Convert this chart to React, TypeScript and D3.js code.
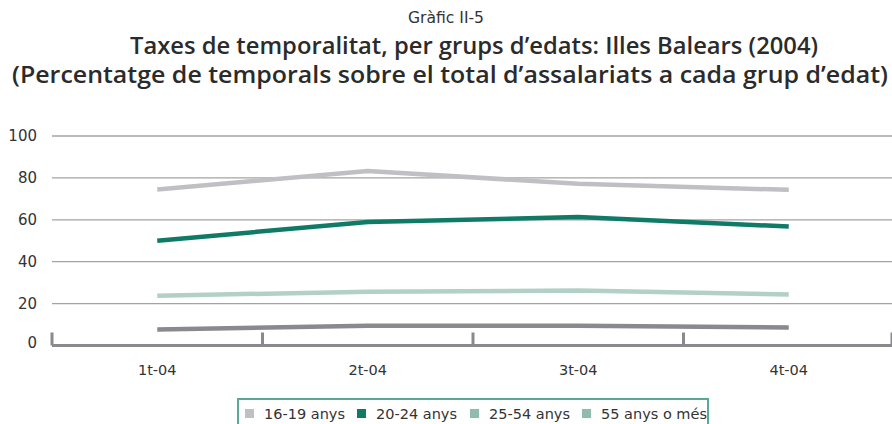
import * as d3 from 'd3';

const categories = ['1t-04', '2t-04', '3t-04', '4t-04'];
const seriesNames = ['16-19 anys', '20-24 anys', '25-54 anys', '55 anys o més'];
const s1619 = [74.5, 83.3, 77.2, 74.3];
const s2024 = [50.0, 59.0, 61.3, 56.8];
const s2554 = [23.8, 25.6, 26.2, 24.3];
const s55 = [7.6, 9.4, 9.4, 8.6];
const yTicks = [0, 20, 40, 60, 80, 100];

const lineColors = ['#c0c0c4', '#0f7a66', '#b2d0c7', '#8a8a8e'];
const legendColors = ['#c0c0c4', '#0f7a66', '#8fbcae', '#8fbcae'];

const W = 892;
const H = 424;
const font = '"DejaVu Sans", "Open Sans", sans-serif';
const condensed = '"DejaVu Sans Condensed", "DejaVu Sans", sans-serif';
const titleFont = '"Open Sans", "DejaVu Sans Condensed", sans-serif';

export default function App() {
  const x = d3.scaleBand<string>().domain(categories).range([52, 894]);
  const y = d3.scaleLinear().domain([0, 100]).range([345.5, 136]);
  const series = [s1619, s2024, s2554, s55];
  const line = d3
    .line<number>()
    .x((_, i) => (x(categories[i]) as number) + x.bandwidth() / 2)
    .y((d) => y(d));

  const bounds = [...categories.map((c) => x(c) as number), 892];
  const legendX = [245, 357, 470, 582];

  return (
    <svg width={W} height={H} style={{ position: 'absolute', left: 0, top: 0, background: '#fff' }} fontFamily={font}>
      <text x={446} y={23} textAnchor="middle" fontSize={15} fill="#333" fontFamily={condensed} textLength={76} lengthAdjust="spacingAndGlyphs">Gràfic II-5</text>
      <text x={474} y={54} textAnchor="middle" fontSize={22.5} fontWeight={600} fill="#2b2b2b" fontFamily={titleFont} textLength={688} lengthAdjust="spacingAndGlyphs">
        Taxes de temporalitat, per grups d’edats: Illes Balears (2004)
      </text>
      <text x={450} y={83} textAnchor="middle" fontSize={22.5} fontWeight={600} fill="#2b2b2b" fontFamily={titleFont} textLength={876} lengthAdjust="spacingAndGlyphs">
        (Percentatge de temporals sobre el total d’assalariats a cada grup d’edat)
      </text>

      {yTicks.filter((t) => t > 0).map((t) => (
        <line key={t} x1={52} x2={892} y1={y(t)} y2={y(t)} stroke="#a3a3a6" strokeWidth={1.3} />
      ))}
      {yTicks.map((t) => (
        <text key={t} x={37} y={y(t) + (t === 0 ? -3 : 0)} dy="0.35em" textAnchor="end" fontSize={15} fill="#333">{t}</text>
      ))}

      <line x1={52} x2={892} y1={y(0)} y2={y(0)} stroke="#8a8a8e" strokeWidth={3} />
      {bounds.map((b, i) => (
        <line key={i} x1={b} x2={b} y1={y(0)} y2={y(0) - 13} stroke="#8a8a8e" strokeWidth={3} />
      ))}
      {categories.map((c) => (
        <text key={c} x={(x(c) as number) + x.bandwidth() / 2} y={375} textAnchor="middle" fontSize={14.5} fill="#333">{c}</text>
      ))}

      {series.map((s, i) => (
        <path key={i} d={line(s) as string} fill="none" stroke={lineColors[i]} strokeWidth={4.5} />
      ))}

      <rect x={238} y={399} width={470} height={40} fill="#fff" stroke="#5aa898" strokeWidth={2} />
      {seriesNames.map((n, i) => (
        <g key={n}>
          <rect x={legendX[i]} y={409} width={9} height={9} fill={legendColors[i]} />
          <text x={legendX[i] + 19} y={413.5} dy="0.35em" fontSize={14.5} fill="#333">{n}</text>
        </g>
      ))}
    </svg>
  );
}
